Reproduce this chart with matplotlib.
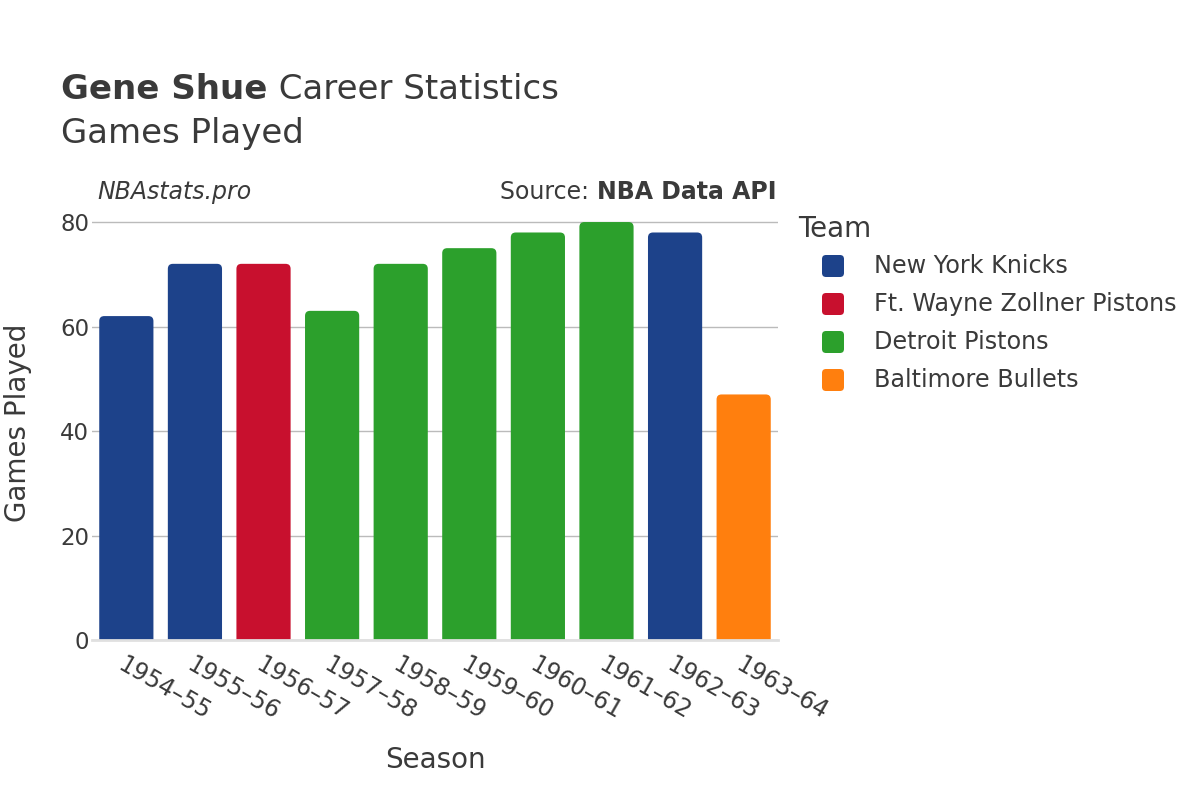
import matplotlib.pyplot as plt
from matplotlib.patches import FancyBboxPatch

seasons = ["1954–55", "1955–56", "1956–57", "1957–58", "1958–59",
           "1959–60", "1960–61", "1961–62", "1962–63", "1963–64"]
games = [62, 72, 72, 63, 72, 75, 78, 80, 78, 47]
teams = ["New York Knicks", "New York Knicks", "Ft. Wayne Zollner Pistons",
         "Detroit Pistons", "Detroit Pistons", "Detroit Pistons",
         "Detroit Pistons", "Detroit Pistons", "New York Knicks",
         "Baltimore Bullets"]

team_names = ["New York Knicks", "Ft. Wayne Zollner Pistons",
              "Detroit Pistons", "Baltimore Bullets"]
team_colors = {"New York Knicks": "#1d428a",
               "Ft. Wayne Zollner Pistons": "#c8102e",
               "Detroit Pistons": "#2ca02c",
               "Baltimore Bullets": "#ff7f0e"}

plt.rcParams['font.family'] = ['DejaVu Sans']
txt = "#3a3a3a"

fig = plt.figure(figsize=(12, 8), dpi=100)
ax = fig.add_axes([0.0767, 0.2, 0.5716, 0.544])

x = list(range(len(seasons)))
ax.set_xlim(-0.5, len(seasons) - 0.5)
ax.set_ylim(0, 83.3)

# bars with slightly rounded tops
bars = ax.bar(x, games, width=0.79, color=[team_colors[t] for t in teams], zorder=3)
fig.canvas.draw()
px_x = ax.bbox.width / (ax.get_xlim()[1] - ax.get_xlim()[0])
px_y = ax.bbox.height / (ax.get_ylim()[1] - ax.get_ylim()[0])
aspect = px_x / px_y
r = 5 / px_x
for b in bars:
    b.set_visible(False)
    fb = FancyBboxPatch((b.get_x(), -3), b.get_width(), b.get_height() + 3,
                        boxstyle=f"round,pad=0,rounding_size={r}",
                        mutation_aspect=aspect, facecolor=b.get_facecolor(),
                        edgecolor='none', zorder=3)
    ax.add_patch(fb)

ax.set_yticks([0, 20, 40, 60, 80])
ax.yaxis.grid(True, color="#bbbbbb", linewidth=1, zorder=0)
ax.tick_params(axis='y', length=0, labelsize=16.5, labelcolor=txt, pad=2)
ax.tick_params(axis='x', length=0, labelsize=17, labelcolor=txt, pad=9)
ax.set_xticks(x)
ax.set_xticklabels(seasons, rotation=-30, ha='left', va='top',
                   rotation_mode='anchor')
for s in ['top', 'right', 'left']:
    ax.spines[s].set_visible(False)
ax.spines['bottom'].set_color("#e0e0e0")
ax.spines['bottom'].set_linewidth(2)
ax.spines['bottom'].set_zorder(4)

ax.set_ylabel("Games Played", fontsize=20, color=txt)
ax.yaxis.set_label_coords(-0.087, 0.5)
ax.set_xlabel("Season", fontsize=20, color=txt, va='top')
ax.xaxis.set_label_coords(0.501, -0.243)

# title, two parts on one line
t1 = fig.text(0.051, 0.876, "Gene Shue", fontsize=24.5, fontweight='bold', color=txt)
fig.canvas.draw()
bb = t1.get_window_extent()
fig.text(bb.x1 / fig.bbox.width, 0.876, " Career Statistics", fontsize=24.5, color=txt)
fig.text(0.051, 0.821, "Games Played", fontsize=24.5, color=txt)

fig.text(0.081, 0.751, "NBAstats.pro", fontsize=17, style='italic', color=txt)
s2 = fig.text(0.647, 0.751, "NBA Data API", fontsize=17, fontweight='bold',
              color=txt, ha='right')
fig.canvas.draw()
bb = s2.get_window_extent()
fig.text(bb.x0 / fig.bbox.width, 0.751, "Source: ", fontsize=17, color=txt, ha='right')

# legend drawn by hand so markers can be rounded squares
fig.text(7.98, 8 - 2.37, "Team", fontsize=20, color=txt,
         transform=fig.dpi_scale_trans)
for i, t in enumerate(team_names):
    yc = 8 - (2.66 + 0.38 * i)
    fig.patches.append(FancyBboxPatch((8.22, yc - 0.11), 0.22, 0.22,
                                      boxstyle="round,pad=0,rounding_size=0.04",
                                      facecolor=team_colors[t], edgecolor='none',
                                      transform=fig.dpi_scale_trans, figure=fig))
    fig.text(8.74, yc, t, fontsize=17.2, color=txt, va='center',
             transform=fig.dpi_scale_trans)

fig.savefig("out.png", dpi=100)
